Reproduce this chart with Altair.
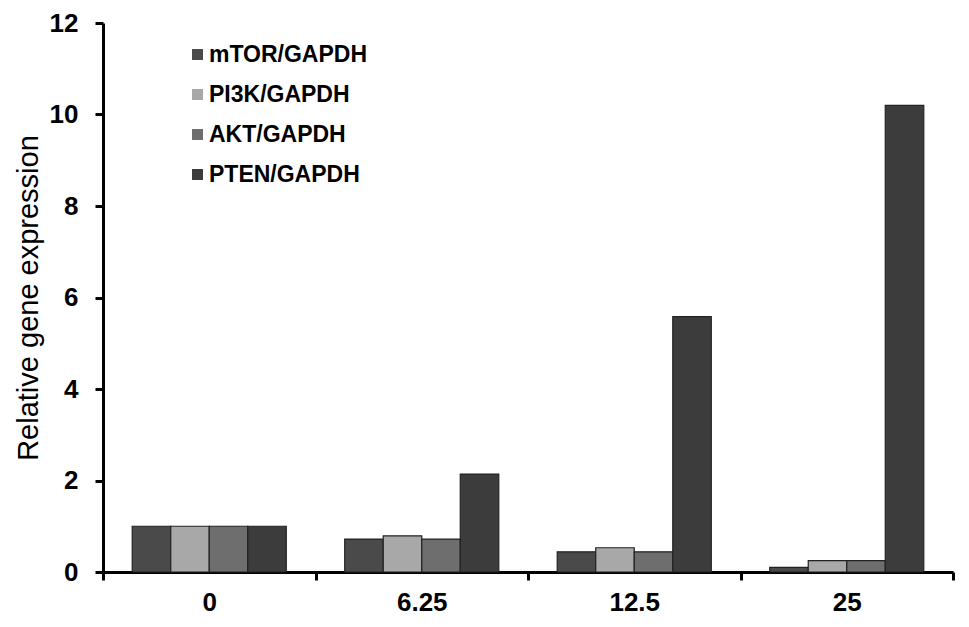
import altair as alt
import pandas as pd

doses = ["0", "6.25", "12.5", "25"]
genes = ["mTOR/GAPDH", "PI3K/GAPDH", "AKT/GAPDH", "PTEN/GAPDH"]
mtor = [1.0, 0.72, 0.44, 0.10]
pi3k = [1.0, 0.79, 0.53, 0.25]
akt = [1.0, 0.72, 0.44, 0.25]
pten = [1.0, 2.14, 5.58, 10.2]
colors = ["#4a4a4a", "#a8a8a8", "#6e6e6e", "#3c3c3c"]

rows = []
for g, vals in zip(genes, [mtor, pi3k, akt, pten]):
    for d, v in zip(doses, vals):
        rows.append({"dose": d, "gene": g, "value": v})
df = pd.DataFrame(rows)

FONT = "Liberation Sans"

chart = alt.Chart(df).mark_bar(stroke="#222222", strokeWidth=1.2).encode(
    x=alt.X("dose:N", sort=doses, title=None,
            scale=alt.Scale(paddingInner=0, paddingOuter=0),
            axis=alt.Axis(labelAngle=0, tickBand="extent", labelFont=FONT,
                          labelFontSize=26, labelFontWeight="bold", labelColor="black",
                          labelPadding=9, tickSize=8, tickWidth=3, tickColor="black",
                          domainColor="black", domainWidth=3)),
    xOffset=alt.XOffset("gene:N", sort=genes,
                        scale=alt.Scale(paddingInner=0, paddingOuter=0.7586)),
    y=alt.Y("value:Q", title="Relative gene expression",
            scale=alt.Scale(domain=[0, 12], nice=False),
            axis=alt.Axis(values=[0, 2, 4, 6, 8, 10, 12], grid=False, labelFont=FONT,
                          labelFontSize=26, labelFontWeight="bold", labelColor="black",
                          labelPadding=17, tickSize=8, tickWidth=3, tickColor="black",
                          domainColor="black", domainWidth=3,
                          titleFont=FONT, titleFontSize=29, titleFontWeight="normal",
                          titleColor="black", titlePadding=6)),
    color=alt.Color("gene:N", sort=genes,
                    scale=alt.Scale(domain=genes, range=colors),
                    legend=alt.Legend(title=None, orient="none", legendX=83, legendY=20,
                                      symbolType="square", symbolSize=121,
                                      symbolStrokeWidth=0, labelFont=FONT,
                                      labelFontSize=23, labelFontWeight="bold",
                                      labelColor="black", rowPadding=16, labelOffset=0)),
).properties(
    width=850, height=549,
    autosize=alt.AutoSizeParams(type="none"),
    padding={"left": 95, "top": 15, "right": 8, "bottom": 52},
).configure_view(stroke=None)

chart.save("out.html", embed_options={"renderer": "svg", "actions": False})
